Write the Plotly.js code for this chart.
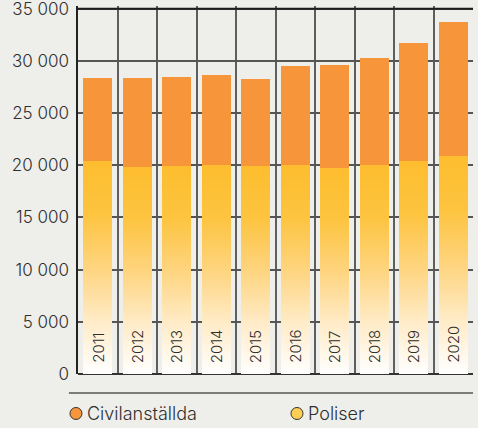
<!DOCTYPE html>
<html>
<head>
<meta charset="utf-8">
<script src="https://cdn.plot.ly/plotly-3.0.1.min.js"></script>
<style>
  html, body { margin: 0; padding: 0; background: #eeeeea; }
  #chart { width: 478px; height: 428px; }
</style>
</head>
<body>
<div id="chart"></div>
<script>
const years = ['2011', '2012', '2013', '2014', '2015', '2016', '2017', '2018', '2019', '2020'];
const poliser = [20430, 19860, 19920, 20020, 19900, 20020, 19730, 20020, 20430, 20910];
const civilanstallda = [7920, 8490, 8530, 8620, 8390, 9480, 9870, 10250, 11270, 12810];
const yTickVals = [0, 5000, 10000, 15000, 20000, 25000, 30000, 35000];
const yTickText = ['0', '5 000', '10 000', '15 000', '20 000', '25 000', '30 000', '35 000'];
const legendNames = ['Civilanställda', 'Poliser'];

const orange = '#f7953a';
const textColor = '#2e2e2e';
const fontFamily = 'Inter, "Liberation Sans", sans-serif';

const data = [
    {
        type: 'bar', name: 'Poliser', x: years, y: poliser,
        marker: { color: '#fdc63f', line: { width: 0 } },
        hoverinfo: 'skip'
    },
    {
        type: 'bar', name: 'Civilanställda', x: years, y: civilanstallda,
        marker: { color: orange, line: { width: 0 } },
        hoverinfo: 'skip'
    }
];

// year labels sit inside the bars, rotated (category axis -> index positions)
const yearLabels = years.map((yr, i) => ({
    x: i, y: 0, xref: 'x', yref: 'y',
    text: yr, textangle: -90, showarrow: false,
    yanchor: 'bottom', yshift: 9,
    font: { family: fontFamily, size: 15, color: textColor, weight: 300 }
}));

// hand-made legend below the separator line
const legendY = -0.1073;
const legendX = [-0.0051, 0.5544];
const legendColors = [orange, '#fdcd55'];
const legendText = legendNames.map((nm, i) => ({
    x: legendX[i] + 0.022, y: legendY, xref: 'paper', yref: 'paper',
    xanchor: 'left', yanchor: 'middle', showarrow: false, text: nm,
    font: { family: fontFamily, size: 18, color: textColor, weight: 300 }
}));
const legendDots = legendNames.map((nm, i) => ({
    type: 'circle', xref: 'paper', yref: 'paper',
    xsizemode: 'pixel', ysizemode: 'pixel',
    xanchor: legendX[i], yanchor: legendY,
    x0: -6, x1: 6, y0: -6, y1: 6,
    fillcolor: legendColors[i], line: { color: '#333', width: 1 }
}));

const layout = {
    width: 478, height: 428,
    margin: { l: 78, r: 5, t: 6, b: 54 },
    paper_bgcolor: '#eeeeea',
    plot_bgcolor: '#eeeeea',
    barmode: 'stack',
    bargap: 0.27,
    showlegend: false,
    font: { family: fontFamily, color: textColor, size: 16 },
    xaxis: {
        type: 'category',
        categoryorder: 'array', categoryarray: years,
        range: [-0.5, years.length - 0.5],
        tickson: 'boundaries',
        showgrid: true, gridcolor: '#5e5e5e', gridwidth: 2,
        showticklabels: false, ticks: '',
        showline: false, zeroline: false
    },
    yaxis: {
        range: [0, 35260],
        tickvals: yTickVals, ticktext: yTickText,
        showgrid: true, gridcolor: '#555', gridwidth: 2,
        zeroline: true, zerolinecolor: '#333', zerolinewidth: 2,
        showline: true, linecolor: '#222', linewidth: 1.6,
        ticks: '', ticklabelstandoff: 4, ticklabeloverflow: 'allow',
        tickfont: { family: fontFamily, size: 17, color: textColor, weight: 300 }
    },
    shapes: [
        { type: 'line', xref: 'paper', yref: 'y', x0: 0, x1: 1, y0: 35000, y1: 35000,
          line: { color: '#1e1e1e', width: 2 } },
        { type: 'line', xref: 'paper', yref: 'paper', x0: -0.023, x1: 1, y0: -0.0516, y1: -0.0516,
          line: { color: '#555', width: 1.5 } }
    ].concat(legendDots),
    annotations: yearLabels.concat(legendText)
};

Plotly.newPlot('chart', data, layout, { staticPlot: true, displayModeBar: false }).then(gd => {
    // the Poliser bars fade from yellow at the top to white at the base
    const ns = 'http://www.w3.org/2000/svg';
    const svg = gd.querySelector('svg.main-svg');
    let defs = svg.querySelector('defs');
    const grad = document.createElementNS(ns, 'linearGradient');
    grad.setAttribute('id', 'polGrad');
    grad.setAttribute('x1', '0'); grad.setAttribute('y1', '0');
    grad.setAttribute('x2', '0'); grad.setAttribute('y2', '1');
    [['0', '#fdbd2e'], ['0.25', '#fdc440'], ['0.5', '#fed47e'], ['0.75', '#ffebc6'], ['1', '#ffffff']].forEach(s => {
        const st = document.createElementNS(ns, 'stop');
        st.setAttribute('offset', s[0]);
        st.setAttribute('stop-color', s[1]);
        grad.appendChild(st);
    });
    defs.appendChild(grad);
    const barTraces = gd.querySelectorAll('.barlayer .trace');
    if (barTraces.length) {
        barTraces[0].querySelectorAll('path').forEach(p => { p.style.fill = 'url(#polGrad)'; });
    }
});
</script>
</body>
</html>
